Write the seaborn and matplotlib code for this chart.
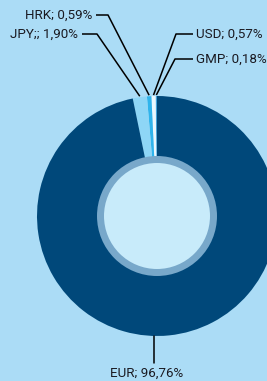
import matplotlib
matplotlib.use("Agg")
import matplotlib.pyplot as plt
import seaborn as sns
import numpy as np
from matplotlib.patches import Circle

# ---- data ----
labels = ["GMP", "USD", "HRK", "JPY;", "EUR"]
values = [0.18, 0.57, 0.59, 1.90, 96.76]
value_labels = ["0,18%", "0,57%", "0,59%", "1,90%", "96,76%"]
colors = ["#3e9fd8", "#eaf7fd", "#2fb4ec", "#8ed6f6", "#00487a"]

sns.set_theme(style="white")
plt.rcParams['font.family'] = ['Roboto', 'DejaVu Sans']

BG = "#abdcf6"
W, H = 267, 381
fig = plt.figure(figsize=(W / 100, H / 100), dpi=100, facecolor=BG)
ax = fig.add_axes([0, 0, 1, 1])
ax.set_facecolor(BG)

cx, cy, R = 157, H - 216, 120
wedges, _ = ax.pie(values, colors=colors, startangle=90, counterclock=True,
                   center=(cx, cy), radius=R, frame=True,
                   wedgeprops=dict(linewidth=0))
ax.set_xlim(0, W)
ax.set_ylim(0, H)
ax.set_aspect("equal")
ax.axis("off")

ax.add_patch(Circle((cx, cy), 60, facecolor="#78a8ca", edgecolor="none", zorder=3))
ax.add_patch(Circle((cx, cy), 53, facecolor="#c8ebfa", edgecolor="none", zorder=4))

# label layout: (elbow x, elbow y, line end x, text x, ha)
layout = {
    "GMP": (175, 59, 193, 196, "left"),
    "USD": (176, 34, 193, 196, "left"),
    "HRK": (108, 15, 96, 92, "right"),
    "JPY;": (97, 34, 82, 78, "right"),
}
tc = "#1a1a22"
fs = 9.6
for w, lab, vl in zip(wedges, labels, value_labels):
    mid = np.deg2rad((w.theta1 + w.theta2) / 2)
    px, py = cx + R * np.cos(mid), cy + R * np.sin(mid)
    txt = f"{lab}; {vl}"
    if lab in layout:
        ex, ey, lx, tx, ha = layout[lab]
        ey = H - ey
        ax.plot([px, ex, lx], [py + 1, ey, ey], color="black", lw=1.1,
                solid_capstyle="butt", zorder=5)
        ax.text(tx, ey, txt, ha=ha, va="center", fontsize=fs, color=tc)
    else:
        ax.plot([154, 154], [H - 336, H - 363], color="black", lw=1.1, zorder=5)
        ax.text(147, H - 373, txt, ha="center", va="center", fontsize=fs, color=tc)

fig.savefig("out.png", dpi=100, facecolor=BG)
